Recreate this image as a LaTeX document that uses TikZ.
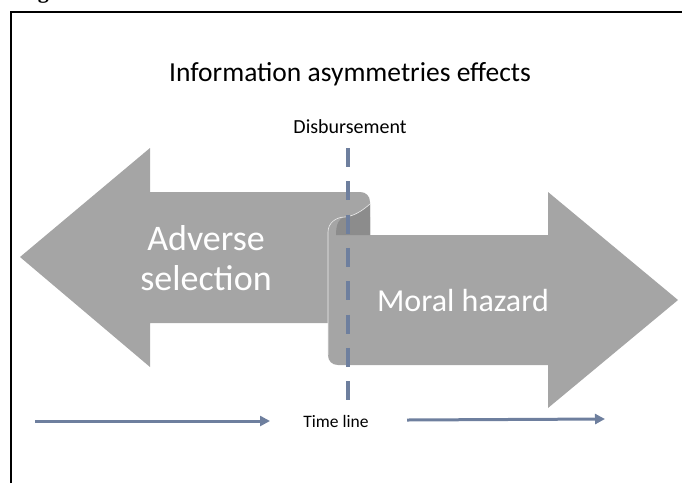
\documentclass[tikz,border=0pt]{standalone}
\usepackage{fontspec}
\setmainfont{Carlito}
\newfontfamily\capfont{Liberation Serif}
\usetikzlibrary{arrows.meta}
\definecolor{arrowgray}{HTML}{A5A5A5}
\definecolor{foldgray}{HTML}{8C8C8C}
\definecolor{slate}{HTML}{6E7F9E}

\begin{document}
\begin{tikzpicture}[x=1pt,y=-1pt,
    biglabel/.style={text=white, align=center},
    timearrow/.style={slate, line width=3pt, -{Triangle[length=10pt,width=10pt]}}]
      \useasboundingbox (0,0) rectangle (682,483);
      % cut caption above the frame
      \begin{scope}
        \clip (0,0) rectangle (682,483);
        \node[anchor=base west, inner sep=0, font=\capfont\bfseries\fontsize{22}{22}\selectfont] (fig) at (18,-2) {Fig};
      \end{scope}
      \draw[line width=2pt] (11,483) -- (11,12) -- (682,12);
      % the two big arrows
      \fill[arrowgray] (20,257) -- (150,148) -- (150,192) -- (360,192) .. controls (366,192) and (370,196) .. (370,202)
        -- (370,235) -- (328,235) -- (328,323) -- (150,323) -- (150,367) -- cycle;
      \fill[arrowgray] (328,232) .. controls (328,223) and (336,217) .. (345,217) -- (370,217) -- (370,235) -- (548,235)
        -- (548,192) -- (678,300) -- (548,408) -- (548,365) -- (338,365) .. controls (332,365) and (328,361) .. (328,355) -- cycle;
      \fill[foldgray] (370,204) .. controls (362,211) and (354,216) .. (345,217) .. controls (339,218) and (336,224) .. (336,235) -- (370,235) -- cycle;
      \draw[white!80!arrowgray, line width=0.6pt] (370,204) .. controls (362,211) and (354,216) .. (345,217)
        .. controls (336,217) and (328,223) .. (328,232) -- (328,355);
      \node[biglabel, font=\fontsize{36}{40}\selectfont] (adverse) at (206,258) {Adverse\\selection};
      \node[biglabel, anchor=base, font=\fontsize{32}{36}\selectfont] (moral) at (463,311) {Moral hazard};
      % texts
      \node[anchor=base, font=\fontsize{27.5}{32}\selectfont] (title) at (350,81) {Information asymmetries effects};
      \node[anchor=base, font=\fontsize{20}{24}\selectfont] (disb) at (350,133) {Disbursement};
      \node[anchor=base, font=\fontsize{17.5}{20}\selectfont] (timeline) at (336,427) {Time line};
      % disbursement line
      \coordinate (disb-top) at (348,148);
      \coordinate (disb-bot) at (348,402);
      \draw[slate, line width=4.5pt, dash pattern=on 19pt off 14.3pt] (disb-top) -- (disb-bot);
      % time line arrows
      \coordinate (past) at (35,421);
      \coordinate (now) at (270,421);
      \coordinate (later) at (407,420);
      \coordinate (future) at (605,419);
      \draw[timearrow] (past) -- (now);
      \draw[timearrow] (later) -- (future);
    \end{tikzpicture}
\end{document}
